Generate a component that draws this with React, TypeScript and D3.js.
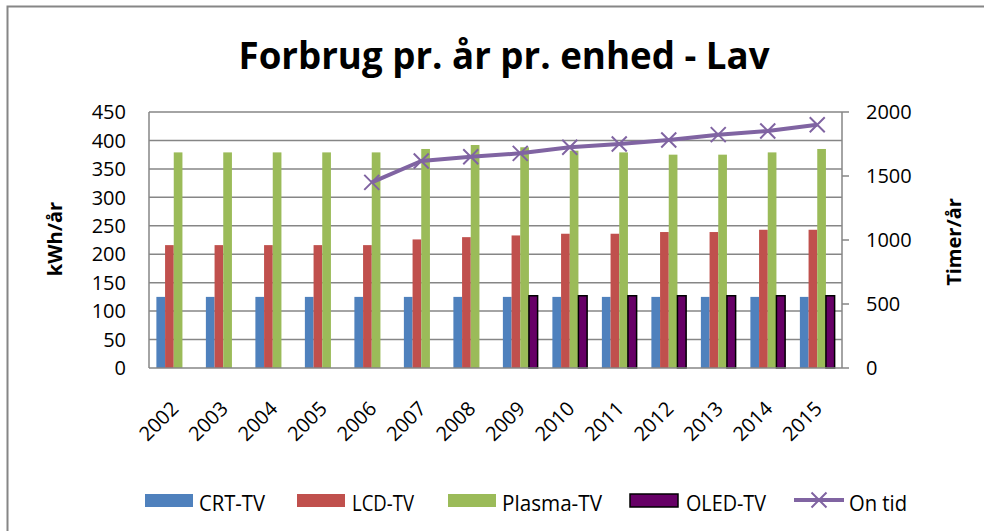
import React, { useEffect, useRef } from "react";
import * as d3 from "d3";

const years = ["2002", "2003", "2004", "2005", "2006", "2007", "2008", "2009", "2010", "2011", "2012", "2013", "2014", "2015"];
const crtTv = [125, 125, 125, 125, 125, 125, 125, 125, 125, 125, 125, 125, 125, 125];
const lcdTv = [216, 216, 216, 216, 216, 226, 230, 233, 236, 236, 239, 239, 243, 243];
const plasmaTv = [379, 379, 379, 379, 379, 385, 392, 388, 382, 379, 375, 375, 379, 385];
const oledTv = [null, null, null, null, null, null, null, 127, 127, 127, 127, 127, 127, 127];
const onTid = [null, null, null, null, 1450, 1617, 1651, 1677, 1724, 1750, 1781, 1823, 1852, 1901];

const leftTicks = [0, 50, 100, 150, 200, 250, 300, 350, 400, 450];
const rightTicks = [0, 500, 1000, 1500, 2000];

const barSeries = [
  { name: "CRT-TV", values: crtTv, color: "#4F81BD", stroke: "none" },
  { name: "LCD-TV", values: lcdTv, color: "#C0504D", stroke: "none" },
  { name: "Plasma-TV", values: plasmaTv, color: "#9BBB59", stroke: "none" },
  { name: "OLED-TV", values: oledTv, color: "#660066", stroke: "#000" },
];

const App = () => {
  const svgRef = useRef<SVGSVGElement>(null);

  useEffect(() => {
    const width = 984;
    const height = 531;
    const left = 149;
    const right = 842;
    const top = 112;
    const bottom = 368;
    const grid = "#868686";
    const font = "'Open Sans', sans-serif";
    const lineColor = "#8064A2";

    const svg = d3.select(svgRef.current);
    svg.selectAll("*").remove();

    const x = d3.scaleBand().domain(years).range([left, right]).padding(0);
    const x1 = d3
      .scaleBand()
      .domain(barSeries.map((s) => s.name))
      .range([0, x.bandwidth()])
      .paddingInner(0)
      .paddingOuter(0.85);
    const y = d3.scaleLinear().domain([0, 450]).range([bottom, top]);
    const y2 = d3.scaleLinear().domain([0, 2000]).range([bottom, top]);

    // outer frame
    svg
      .append("rect")
      .attr("x", 7.5)
      .attr("y", 6.5)
      .attr("width", 1000)
      .attr("height", 600)
      .attr("fill", "#fff")
      .attr("stroke", grid)
      .attr("stroke-width", 2);

    // title
    svg
      .append("text")
      .attr("x", 504)
      .attr("y", 69)
      .attr("text-anchor", "middle")
      .attr("font-family", font)
      .attr("font-weight", "bold")
      .attr("font-size", 38)
      .attr("textLength", 531)
      .attr("lengthAdjust", "spacingAndGlyphs")
      .text("Forbrug pr. år pr. enhed - Lav");

    // gridlines
    svg
      .append("g")
      .selectAll("line")
      .data(leftTicks.slice(1))
      .join("line")
      .attr("x1", left)
      .attr("x2", right)
      .attr("y1", (d) => y(d))
      .attr("y2", (d) => y(d))
      .attr("stroke", grid)
      .attr("stroke-width", 1.5);

    // bars
    const groups = svg
      .append("g")
      .selectAll("g")
      .data(barSeries)
      .join("g")
      .attr("fill", (s) => s.color)
      .attr("stroke", (s) => s.stroke)
      .attr("stroke-width", 1.5);

    groups
      .selectAll("rect")
      .data((s) => s.values.map((v, i) => ({ name: s.name, year: years[i], v })).filter((d) => d.v != null))
      .join("rect")
      .attr("x", (d) => (x(d.year) as number) + (x1(d.name) as number))
      .attr("width", x1.bandwidth())
      .attr("y", (d) => y(d.v as number))
      .attr("height", (d) => bottom - y(d.v as number));

    // axes lines
    svg.append("line").attr("x1", left).attr("x2", left).attr("y1", top).attr("y2", bottom).attr("stroke", grid).attr("stroke-width", 1.5);
    svg.append("line").attr("x1", left).attr("x2", right).attr("y1", bottom).attr("y2", bottom).attr("stroke", grid).attr("stroke-width", 1.5);
    svg.append("line").attr("x1", right).attr("x2", right).attr("y1", top).attr("y2", bottom).attr("stroke", grid).attr("stroke-width", 1.5);

    svg
      .append("g")
      .selectAll("line")
      .data(rightTicks)
      .join("line")
      .attr("x1", right)
      .attr("x2", right + 7)
      .attr("y1", (d) => y2(d))
      .attr("y2", (d) => y2(d))
      .attr("stroke", grid)
      .attr("stroke-width", 1.5);

    // tick labels
    svg
      .append("g")
      .selectAll("text")
      .data(leftTicks)
      .join("text")
      .attr("x", 126)
      .attr("y", (d) => y(d))
      .attr("dy", "0.36em")
      .attr("text-anchor", "end")
      .attr("font-family", font)
      .attr("font-size", 20)
      .text((d) => d);

    svg
      .append("g")
      .selectAll("text")
      .data(rightTicks)
      .join("text")
      .attr("x", 866)
      .attr("y", (d) => y2(d))
      .attr("dy", "0.36em")
      .attr("font-family", font)
      .attr("font-size", 20)
      .text((d) => d);

    svg
      .append("g")
      .selectAll("text")
      .data(years)
      .join("text")
      .attr("transform", (d) => `translate(${(x(d) as number) + x.bandwidth() / 2 + 6},${410}) rotate(-45)`)
      .attr("text-anchor", "end")
      .attr("font-family", font)
      .attr("font-size", 20)
      .text((d) => d);

    // axis titles
    svg
      .append("text")
      .attr("transform", "translate(62,239) rotate(-90)")
      .attr("text-anchor", "middle")
      .attr("font-family", font)
      .attr("font-weight", "bold")
      .attr("font-size", 20)
      .text("kWh/år");

    svg
      .append("text")
      .attr("transform", "translate(961,242) rotate(-90)")
      .attr("text-anchor", "middle")
      .attr("font-family", font)
      .attr("font-weight", "bold")
      .attr("font-size", 20)
      .text("Timer/år");

    // On tid line
    const pts = onTid.map((v, i) => ({ year: years[i], v })).filter((d) => d.v != null);
    const cx = (d: { year: string }) => (x(d.year) as number) + x.bandwidth() / 2;
    const line = d3
      .line<{ year: string; v: number | null }>()
      .x(cx)
      .y((d) => y2(d.v as number));

    svg
      .append("path")
      .datum(pts)
      .attr("d", line)
      .attr("fill", "none")
      .attr("stroke", lineColor)
      .attr("stroke-width", 4)
      .attr("stroke-linejoin", "round");

    const cross = (g: d3.Selection<any, any, any, any>, r: number) =>
      g
        .append("path")
        .attr("d", `M${-r},${-r}L${r},${r}M${-r},${r}L${r},${-r}`)
        .attr("stroke", lineColor)
        .attr("stroke-width", 2)
        .attr("fill", "none");

    svg
      .append("g")
      .selectAll("g")
      .data(pts)
      .join("g")
      .attr("transform", (d) => `translate(${cx(d)},${y2(d.v as number)})`)
      .each(function () {
        cross(d3.select(this), 7.5);
      });

    // legend
    const legendItems = [
      { x: 145, tx: 199, tw: 66 },
      { x: 297, tx: 352, tw: 62 },
      { x: 448, tx: 502, tw: 100 },
      { x: 630, tx: 686, tw: 80 },
    ];
    barSeries.forEach((s, i) => {
      const it = legendItems[i];
      svg
        .append("rect")
        .attr("x", it.x)
        .attr("y", 494)
        .attr("width", 48)
        .attr("height", 13)
        .attr("fill", s.color)
        .attr("stroke", s.stroke)
        .attr("stroke-width", 1.5);
      svg
        .append("text")
        .attr("x", it.tx)
        .attr("y", 511)
        .attr("font-family", font)
        .attr("font-size", 21)
        .attr("textLength", it.tw)
        .attr("lengthAdjust", "spacingAndGlyphs")
        .text(s.name);
    });
    svg.append("line").attr("x1", 794).attr("x2", 844).attr("y1", 500).attr("y2", 500).attr("stroke", lineColor).attr("stroke-width", 4);
    cross(svg.append("g").attr("transform", "translate(819,500)"), 7.5);
    svg
      .append("text")
      .attr("x", 849)
      .attr("y", 511)
      .attr("font-family", font)
      .attr("font-size", 21)
      .attr("textLength", 58)
      .attr("lengthAdjust", "spacingAndGlyphs")
      .text("On tid");

    svg.attr("width", width).attr("height", height);
  }, []);

  return (
    <svg
      ref={svgRef}
      width={984}
      height={531}
      style={{ position: "absolute", left: 0, top: 0, display: "block", background: "#fff" }}
    ></svg>
  );
};

export default App;
